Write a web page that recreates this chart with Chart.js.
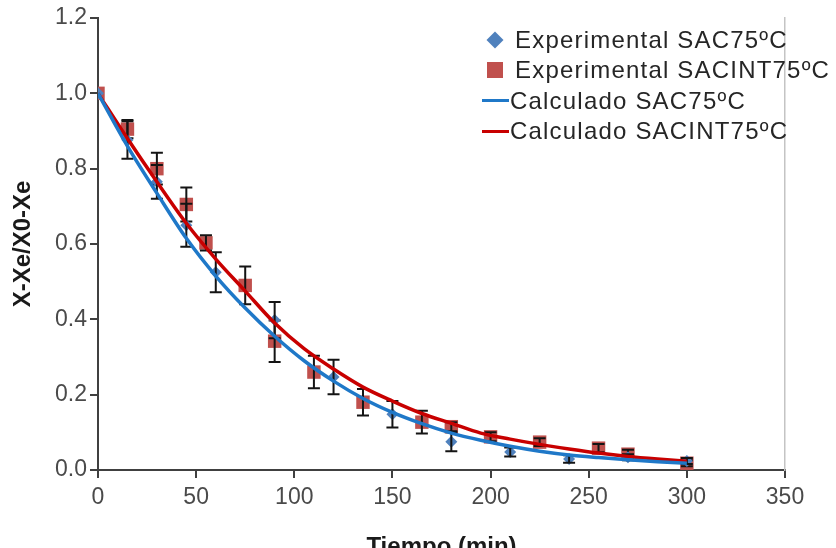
<!DOCTYPE html>
<html>
<head>
<meta charset="utf-8">
<script src="https://cdn.jsdelivr.net/npm/chart.js@4"></script>
<style>
  html, body { margin: 0; padding: 0; background: #fff; overflow: hidden; }
  #wrap { position: relative; width: 836px; height: 548px; overflow: hidden; }
  #dryingChart { position: absolute; left: 0; top: 0; }
  .legend-text {
    position: absolute;
    height: 30px;
    line-height: 30px;
    font-family: "Liberation Sans", Arial, sans-serif;
    font-size: 24px;
    letter-spacing: 1.2px;
    color: #262626;
    white-space: nowrap;
  }
  .legend-mark { position: absolute; }
</style>
</head>
<body>
<div id="wrap">
  <canvas id="dryingChart" width="836" height="562"></canvas>

  <span class="legend-mark" style="left:489px;top:34px;width:12px;height:12px;background:#4f81bd;transform:rotate(45deg);"></span>
  <span class="legend-text" style="left:515px;top:25px;">Experimental SAC75ºC</span>

  <span class="legend-mark" style="left:487px;top:62px;width:16px;height:16px;background:#c0504d;"></span>
  <span class="legend-text" style="left:515px;top:55px;">Experimental SACINT75ºC</span>

  <span class="legend-mark" style="left:482px;top:99px;width:27px;height:3px;background:#1f78c8;"></span>
  <span class="legend-text" style="left:510px;top:86px;">Calculado SAC75ºC</span>

  <span class="legend-mark" style="left:482px;top:130px;width:27px;height:3px;background:#c80000;"></span>
  <span class="legend-text" style="left:510px;top:116px;">Calculado SACINT75ºC</span>
</div>

<script>
// --- experimental points
const sacTime = [0, 15, 30, 45, 60, 90, 120, 150, 180, 210, 240, 270, 300];
const sacValue = [1.0, 0.876, 0.765, 0.65, 0.525, 0.398, 0.247, 0.148, 0.075, 0.048, 0.029, 0.034, 0.024];
const sacError = [0, 0.05, 0.045, 0.057, 0.053, 0.048, 0.046, 0.035, 0.025, 0.012, 0.01, 0.008, 0.008];

const sacintTime = [0, 15, 30, 45, 55, 75, 90, 110, 135, 165, 180, 200, 225, 255, 270, 300];
const sacintValue = [1.0, 0.905, 0.80, 0.705, 0.603, 0.49, 0.342, 0.26, 0.18, 0.127, 0.115, 0.088, 0.074, 0.058, 0.042, 0.018];
const sacintError = [0, 0.024, 0.042, 0.045, 0.02, 0.05, 0.055, 0.043, 0.035, 0.03, 0.012, 0.012, 0.01, 0.011, 0.012, 0.008];

// --- fitted curves
const calcTime = [0, 15, 30, 45, 60, 75, 90, 105, 120, 135, 150, 165, 180, 195, 210, 225, 240, 255, 270, 285, 300];
const sacCalc = [1.0, 0.86, 0.735, 0.615, 0.515, 0.43, 0.355, 0.29, 0.236, 0.19, 0.153, 0.123, 0.098, 0.079, 0.063, 0.05, 0.04, 0.033, 0.027, 0.022, 0.018];
const sacintCalc = [1.0, 0.88, 0.765, 0.655, 0.56, 0.475, 0.39, 0.322, 0.268, 0.22, 0.183, 0.15, 0.124, 0.098, 0.082, 0.068, 0.056, 0.045, 0.036, 0.029, 0.023];

const xTicks = [0, 50, 100, 150, 200, 250, 300, 350];
const yTicks = [0, 0.2, 0.4, 0.6, 0.8, 1.0, 1.2];

const axisColor = "#404040";
const tickFont = { family: "Liberation Sans", size: 23 };
const titleFont = { family: "Liberation Sans", size: 24, weight: "bold" };

function toPoints(xs, ys) {
  return xs.map((x, i) => ({ x: x, y: ys[i] }));
}

// error bars for the experimental series, drawn right after each one
const errorBarPlugin = {
  id: "errorBars",
  afterDatasetDraw(chart, args) {
    const ds = chart.data.datasets[args.index];
    if (!ds.errors) return;
    const ctx = chart.ctx;
    const xScale = chart.scales.x;
    const yScale = chart.scales.y;
    ctx.save();
    ctx.strokeStyle = "#141414";
    ctx.lineWidth = 2;
    ds.data.forEach((p, i) => {
      const err = ds.errors[i];
      if (!err) return;
      const px = xScale.getPixelForValue(p.x);
      const top = yScale.getPixelForValue(p.y + err);
      const bottom = yScale.getPixelForValue(p.y - err);
      ctx.beginPath();
      ctx.moveTo(px, top);
      ctx.lineTo(px, bottom);
      ctx.moveTo(px - 6, top);
      ctx.lineTo(px + 6, top);
      ctx.moveTo(px - 6, bottom);
      ctx.lineTo(px + 6, bottom);
      ctx.stroke();
    });
    ctx.restore();
  }
};

new Chart(document.getElementById("dryingChart"), {
  type: "scatter",
  data: {
    datasets: [
      {
        label: "Calculado SAC75ºC",
        type: "line",
        data: toPoints(calcTime, sacCalc),
        borderColor: "#1f78c8",
        borderWidth: 3.5,
        pointRadius: 0,
        cubicInterpolationMode: "monotone",
        order: 0
      },
      {
        label: "Calculado SACINT75ºC",
        type: "line",
        data: toPoints(calcTime, sacintCalc),
        borderColor: "#c80000",
        borderWidth: 3.5,
        pointRadius: 0,
        cubicInterpolationMode: "monotone",
        order: 0
      },
      {
        label: "Experimental SAC75ºC",
        data: toPoints(sacTime, sacValue),
        errors: sacError,
        pointStyle: "rectRot",
        pointRadius: 6,
        backgroundColor: "#4f81bd",
        borderColor: "#4f81bd",
        borderWidth: 0,
        order: 1
      },
      {
        label: "Experimental SACINT75ºC",
        data: toPoints(sacintTime, sacintValue),
        errors: sacintError,
        pointStyle: "rect",
        pointRadius: 9.5,
        backgroundColor: "#c0504d",
        borderColor: "#c0504d",
        borderWidth: 0,
        order: 2
      }
    ]
  },
  options: {
    responsive: false,
    animation: false,
    layout: { padding: { top: 18, left: 0, right: 0, bottom: 0 } },
    plugins: {
      legend: { display: false },
      tooltip: { enabled: false }
    },
    scales: {
      x: {
        type: "linear",
        min: 0,
        max: 350,
        afterBuildTicks: scale => { scale.ticks = xTicks.map(v => ({ value: v })); },
        afterFit: scale => { scale.height = 92; },
        grid: { drawOnChartArea: false, drawTicks: true, tickLength: 8, color: axisColor, lineWidth: 2 },
        border: { color: axisColor, width: 2 },
        ticks: { font: tickFont, color: "#4a4a4a", padding: 6, maxRotation: 0 },
        title: { display: true, text: "Tiempo (min)", font: titleFont, color: "#1a1a1a", padding: 0 }
      },
      y: {
        type: "linear",
        min: 0,
        max: 1.2,
        afterBuildTicks: scale => { scale.ticks = yTicks.map(v => ({ value: v })); },
        afterFit: scale => { scale.width = 98; },
        grid: { drawOnChartArea: false, drawTicks: true, tickLength: 8, color: axisColor, lineWidth: 2 },
        border: { color: axisColor, width: 2 },
        ticks: { font: tickFont, color: "#4a4a4a", padding: 3, callback: v => Number(v).toFixed(1) },
        title: { display: true, text: "X-Xe/X0-Xe", font: titleFont, color: "#1a1a1a", padding: { top: 9, bottom: 0 } }
      },
      y2: {
        type: "linear",
        position: "right",
        min: 0,
        max: 1.2,
        afterFit: scale => { scale.width = 51; },
        grid: { display: false },
        border: { display: true, color: "#c4c4c4", width: 1.5 },
        ticks: { display: false }
      }
    }
  },
  plugins: [errorBarPlugin]
});
</script>
</body>
</html>
